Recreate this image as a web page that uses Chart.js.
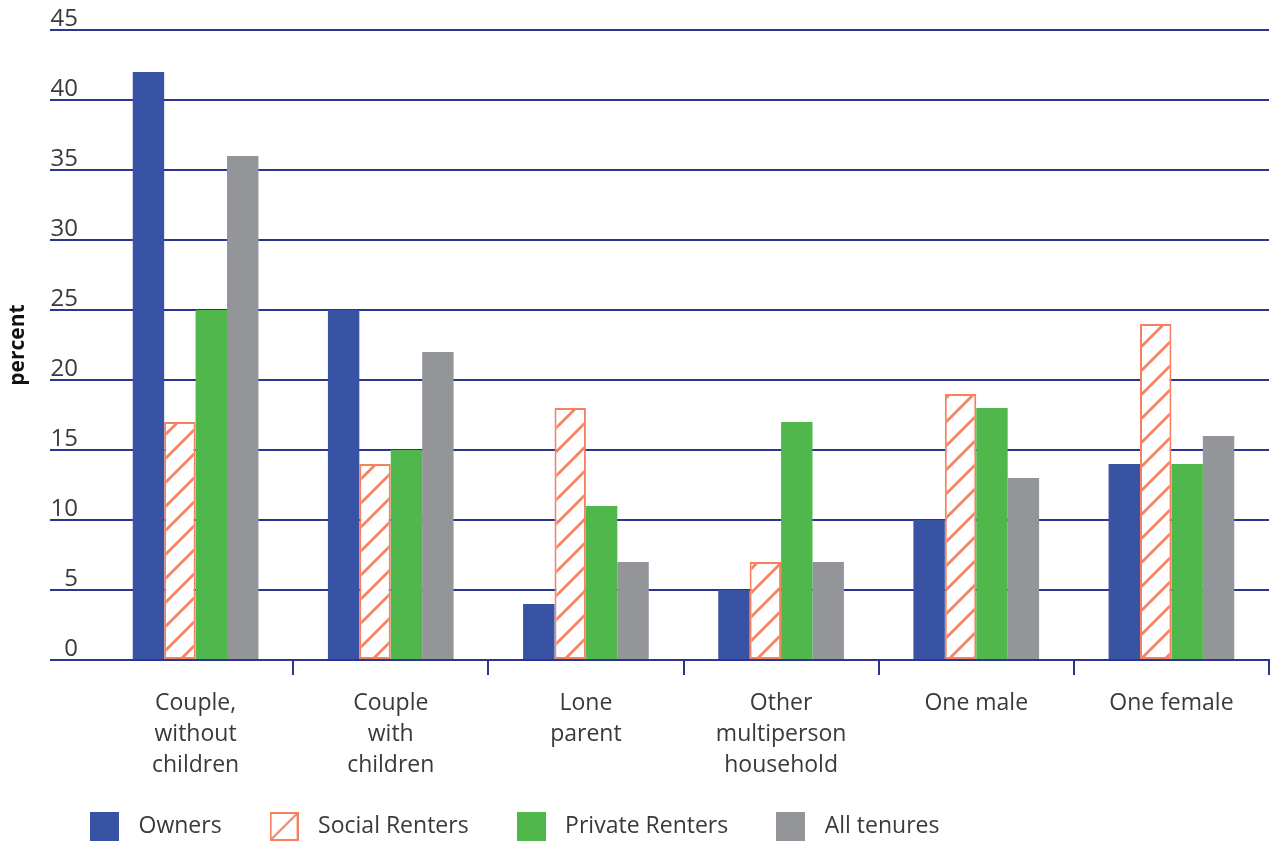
<!DOCTYPE html>
<html>
<head>
<meta charset="utf-8">
<title>Household type by tenure</title>
<script src="https://cdn.jsdelivr.net/npm/chart.js@4/dist/chart.umd.min.js"></script>
<style>
  html, body { margin: 0; padding: 0; background: #ffffff; }
  #wrap { width: 1271px; height: 848px; }
</style>
</head>
<body>
<div id="wrap"><canvas id="chart" width="1271" height="848"></canvas></div>
<script>
// Household types (x axis), multi-line labels
const categories = [
  ["Couple,", "without", "children"],
  ["Couple", "with", "children"],
  ["Lone", "parent"],
  ["Other", "multiperson", "household"],
  "One male",
  "One female"
];

// Series: percent of households in each tenure
const seriesNames = ["Owners", "Social Renters", "Private Renters", "All tenures"];
const owners = [42, 25, 4, 5, 10, 14];
const socialRenters = [17, 14, 18, 7, 19, 24];
const privateRenters = [25, 15, 11, 17, 18, 14];
const allTenures = [36, 22, 7, 7, 13, 16];

// Value axis
const yMin = 0;
const yMax = 45;
const yStep = 5;

const BLUE = "#3953a4";
const SALMON = "#f4815f";
const GREEN = "#50b74d";
const GREY = "#939598";
const GRID = "#2b3590";
const TEXT = "#3a3a3a";
const FONT = "'Open Sans', 'DejaVu Sans', sans-serif";

// Diagonal hatch used for social renters
function makeHatch(size, lw, color) {
  const c = document.createElement("canvas");
  c.width = size; c.height = size;
  const g = c.getContext("2d");
  g.fillStyle = "#ffffff";
  g.fillRect(0, 0, size, size);
  g.strokeStyle = color;
  g.lineWidth = lw;
  g.lineCap = "square";
  for (const k of [0, size, 2 * size]) {
    g.beginPath();
    g.moveTo(-2, k + 2);
    g.lineTo(k + 2, -2);
    g.stroke();
  }
  return g.createPattern(c, "repeat");
}
const hatch = makeHatch(24, 2.7, SALMON);

// Legend swatches
function swatch(fill, hatched) {
  const s = 29;
  const c = document.createElement("canvas");
  c.width = s; c.height = s;
  const g = c.getContext("2d");
  if (hatched) {
    g.fillStyle = "#ffffff";
    g.fillRect(0, 0, s, s);
    g.strokeStyle = SALMON;
    g.lineWidth = 2;
    g.strokeRect(1, 1, s - 2, s - 2);
    g.beginPath();
    g.moveTo(1, s - 1);
    g.lineTo(s - 1, 1);
    g.stroke();
  } else {
    g.fillStyle = fill;
    g.fillRect(0, 0, s, s);
  }
  return c;
}
const legendIcons = [swatch(BLUE), swatch(null, true), swatch(GREEN), swatch(GREY)];

const chart = new Chart(document.getElementById("chart"), {
  type: "bar",
  data: {
    labels: categories,
    datasets: [
      { label: seriesNames[0], data: owners, backgroundColor: BLUE, borderWidth: 0 },
      { label: seriesNames[1], data: socialRenters, backgroundColor: hatch, borderColor: SALMON, borderWidth: 2, borderSkipped: false },
      { label: seriesNames[2], data: privateRenters, backgroundColor: GREEN, borderWidth: 0 },
      { label: seriesNames[3], data: allTenures, backgroundColor: GREY, borderWidth: 0 }
    ]
  },
  options: {
    responsive: false,
    animation: false,
    events: [],
    categoryPercentage: 0.644,
    barPercentage: 1.0,
    layout: { padding: { top: 30, left: 42, right: 2, bottom: 0 } },
    plugins: {
      tooltip: { enabled: false },
      legend: {
        position: "bottom",
        align: "start",
        labels: {
          usePointStyle: true,
          pointStyleWidth: 45,
          padding: 40,
          color: TEXT,
          font: { family: FONT, size: 23 },
          generateLabels: (ch) =>
            Chart.defaults.plugins.legend.labels.generateLabels(ch).map((item, i) =>
              Object.assign(item, { pointStyle: legendIcons[i] }))
        }
      }
    },
    scales: {
      x: {
        grid: {
          display: true,
          drawOnChartArea: false,
          drawTicks: true,
          tickLength: 15,
          lineWidth: 2,
          color: GRID,
          tickColor: (ctx) => (ctx.index === 0 ? "rgba(0,0,0,0)" : GRID)
        },
        border: { display: true, color: GRID, width: 2 },
        ticks: {
          color: TEXT,
          padding: 13,
          maxRotation: 0,
          autoSkip: false,
          font: { family: FONT, size: 23, lineHeight: 1.35 }
        },
        afterFit: (scale) => { scale.height = 115; }
      },
      y: {
        min: yMin,
        max: yMax,
        border: { display: false },
        grid: {
          color: GRID,
          lineWidth: 2,
          drawTicks: true,
          tickLength: 48,
          tickColor: GRID
        },
        ticks: {
          stepSize: yStep,
          color: TEXT,
          padding: -28,
          labelOffset: -11,
          font: { family: FONT, size: 24 }
        },
        title: {
          display: true,
          text: "percent",
          color: "#111111",
          font: { family: FONT, size: 21, weight: "bold" },
          padding: { top: -37, bottom: 0 }
        },
        afterFit: (scale) => { scale.width = 56; }
      }
    }
  }
});
</script>
</body>
</html>
